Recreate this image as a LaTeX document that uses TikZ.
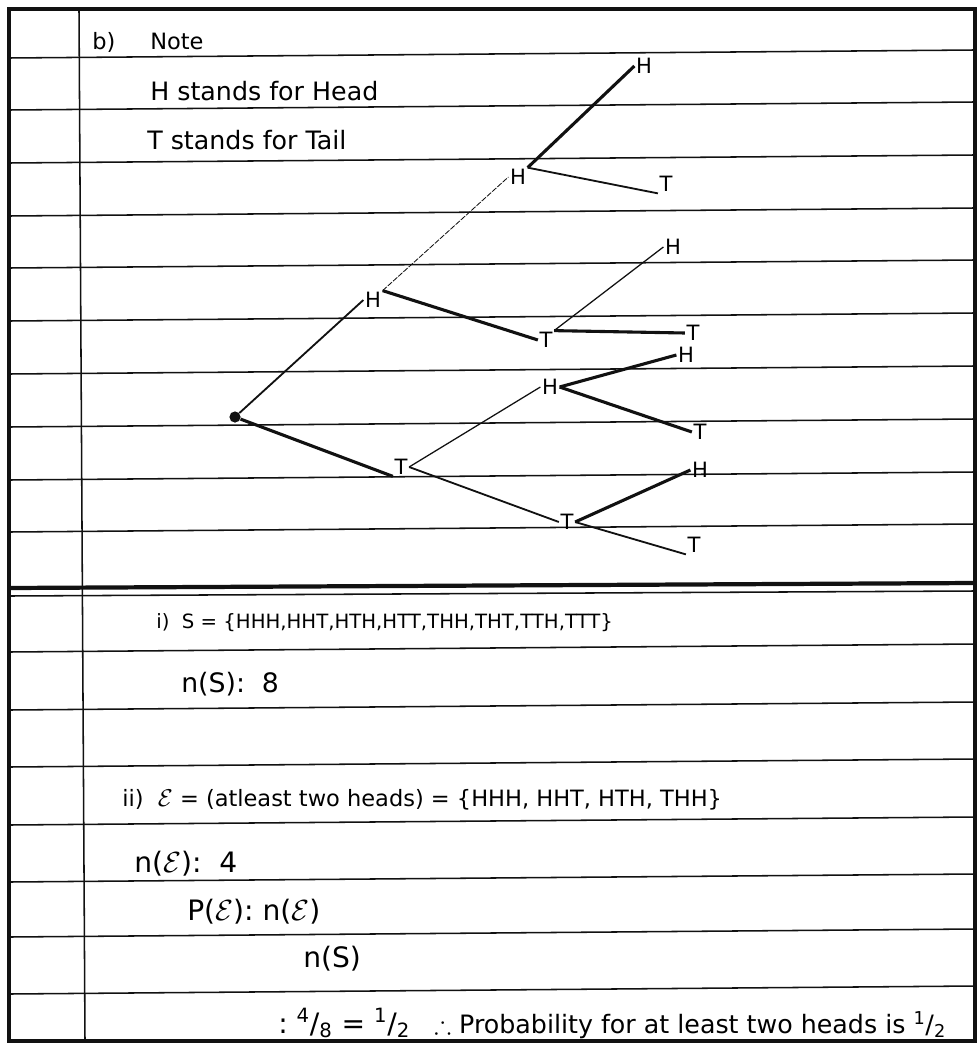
\documentclass[tikz,border=0pt]{standalone}
\usepackage{amsmath,amssymb}
\usepackage{fontspec}
\setmainfont{DejaVu Sans}
\usepackage{tikz}
\usetikzlibrary{positioning}
\definecolor{ink}{HTML}{111111}

\begin{document}
\begin{tikzpicture}[x=0.025cm,y=-0.025cm,
  rule/.style={ink,line width=1.1pt},
  hand/.style={anchor=base west,inner sep=0pt,font=\fontsize{#1}{#1}\selectfont},
  hand/.default=18,
  lbl/.style={inner sep=1pt,font=\fontsize{15}{15}\selectfont},
  faintline/.style={ink,line width=0.6pt,dash pattern=on 4pt off 1pt},
  lightline/.style={ink,line width=0.9pt},
  midline/.style={ink,line width=1.3pt},
  heavyline/.style={ink,line width=2.2pt}]
  \useasboundingbox (0,0) rectangle (979,1044);
  % ruled page
  \draw[ink,line width=2.4pt] (9,9) rectangle (975,1041);
  \draw[rule] (79,9) -- (85,1041);
  \foreach \y in {54,106,159,212,264,317,370,423,476,528,648,706,763,821,878,933,990}
    \draw[rule] (9,\y+4) -- (975,\y-4);
  \draw[ink,line width=3pt] (9,588) -- (975,583);
  \draw[rule] (9,596) -- (975,591);

  % key
  \node[hand=16] (partb) at (92,50) {b)};
  \node[hand=16] (note) at (150,50) {Note};
  \node[hand] (hkey) at (150,101) {H stands for Head};
  \node[hand] (tkey) at (147,150) {T stands for Tail};

  % tree
  \node[circle,fill=ink,inner sep=0pt,minimum size=2.8mm] (root) at (235,417) {};
  \node[lbl] (h) at (373,300) {H};
  \node[lbl] (t) at (401,467) {T};
  \node[lbl] (hh) at (518,177) {H};
  \node[lbl] (ht) at (546,340) {T};
  \node[lbl] (th) at (550,387) {H};
  \node[lbl] (tt) at (567,522) {T};
  \node[lbl] (hhh) at (644,66) {H};
  \node[lbl] (hht) at (666,184) {T};
  \node[lbl] (hth) at (673,247) {H};
  \node[lbl] (htt) at (693,333) {T};
  \node[lbl] (thh) at (686,355) {H};
  \node[lbl] (tht) at (700,432) {T};
  \node[lbl] (tth) at (700,470) {H};
  \node[lbl] (ttt) at (694,545) {T};
  \draw[midline] (root) -- (h.west);
  \draw[heavyline] (root) -- (t.south west);
  \draw[faintline] (h.north east) -- (hh.west);
  \draw[heavyline] (h.north east) -- (ht.west);
  \draw[lightline] (t.east) -- (th.west);
  \draw[midline] (t.east) -- (tt.west);
  \draw[heavyline] (hh.north east) -- (hhh.west);
  \draw[midline] (hh.north east) -- (hht.south west);
  \draw[lightline] (ht.north east) -- (hth.west);
  \draw[heavyline] (ht.north east) -- (htt.west);
  \draw[heavyline] (th.east) -- (thh.west);
  \draw[heavyline] (th.east) -- (tht.west);
  \draw[heavyline] (tt.east) -- (tth.west);
  \draw[midline] (tt.east) -- (ttt.south west);

  % working
  \node[hand=14] (space) at (156,628) {i)\ \ S = \{HHH,HHT,HTH,HTT,THH,THT,TTH,TTT\}};
  \node[hand=19] (ns) at (181,692) {n(S):\ \ 8};
  \node[hand=16] (event) at (122,806) {ii)\ \ $\mathcal{E}$ = (atleast two heads) = \{HHH, HHT, HTH, THH\}};
  \node[hand=20] (ne) at (134,872) {n($\mathcal{E}$):\ \ 4};
  \node[hand=20] (pe) at (187,920) {P($\mathcal{E}$):\ n($\mathcal{E}$)};
  \node[hand=20] (den) at (303,967) {n(S)};
  \node[hand=20] (val) at (278,1033) {:\ \textsuperscript{4}/\textsubscript{8} = \textsuperscript{1}/\textsubscript{2}};
  \node[hand] (concl) at (434,1033) {$\therefore$ Probability for at least two heads is \textsuperscript{1}/\textsubscript{2}};
\end{tikzpicture}
\end{document}
